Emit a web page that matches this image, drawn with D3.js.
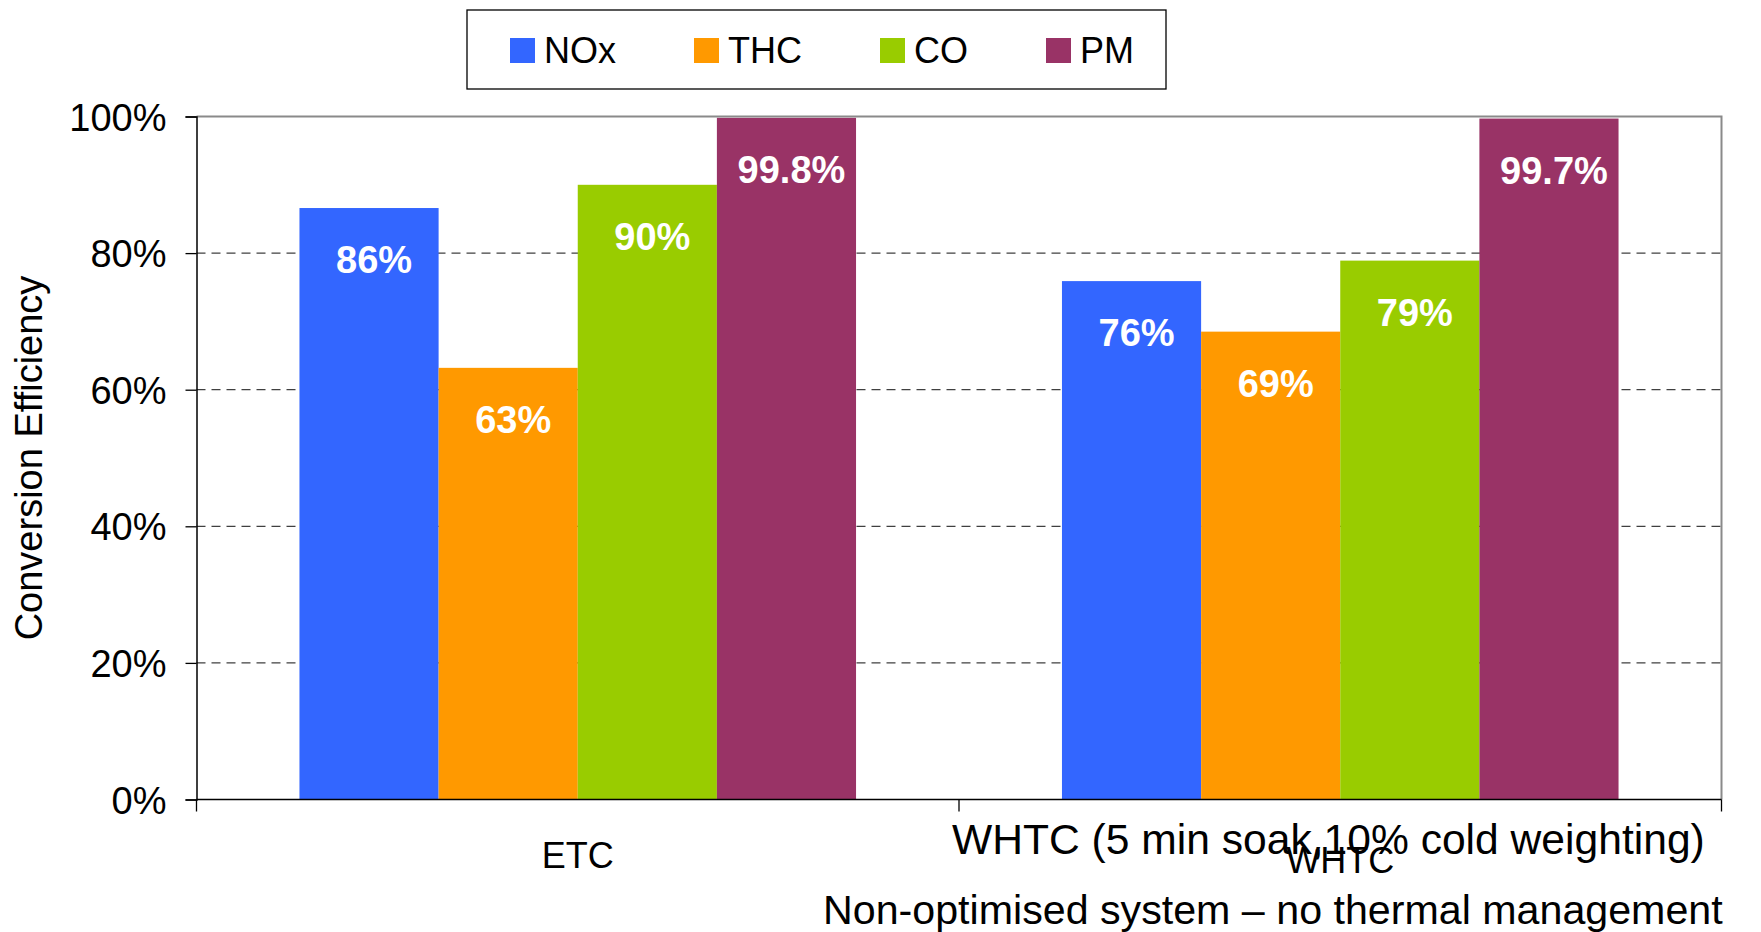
<!DOCTYPE html>
<html>
<head>
<meta charset="utf-8">
<script src="https://cdn.jsdelivr.net/npm/d3@7"></script>
<style>
  html, body { margin: 0; padding: 0; background: #fff; }
  svg { display: block; font-family: Arial, "Liberation Sans", sans-serif; }
</style>
</head>
<body>
<svg id="chart" width="1761" height="932"></svg>
<script>
// ---- data ----
const categories = ["ETC", "WHTC"];
const seriesNames = ["NOx", "THC", "CO", "PM"];
const seriesColors = ["#3366FF", "#FF9900", "#99CC00", "#993366"];
const etcValues = [86.6, 63.2, 90.0, 99.8];
const whtcValues = [75.9, 68.5, 78.9, 99.7];
const etcLabels = ["86%", "63%", "90%", "99.8%"];
const whtcLabels = ["76%", "69%", "79%", "99.7%"];
const yTicks = [0, 20, 40, 60, 80, 100];
const yTitle = "Conversion Efficiency";
const subTitle1 = "WHTC (5 min soak,10% cold weighting)";
const subTitle2 = "Non-optimised system \u2013 no thermal management";

const valuesByCat = [etcValues, whtcValues];
const labelsByCat = [etcLabels, whtcLabels];

// ---- layout ----
const svg = d3.select("#chart");
const L = 196.5, R = 1721.5, T = 116.5, B = 799.5;

const x0 = d3.scaleBand().domain(categories).range([L, R]).paddingInner(0).paddingOuter(0);
const x1 = d3.scaleBand().domain(seriesNames).range([0, x0.bandwidth()]).paddingInner(0).paddingOuter(0.74);
const y = d3.scaleLinear().domain([0, 100]).range([B, T]);

// gridlines
svg.append("g").selectAll("line")
  .data(yTicks.filter(t => t > 0 && t < 100))
  .join("line")
  .attr("x1", L).attr("x2", R)
  .attr("y1", d => y(d)).attr("y2", d => y(d))
  .attr("stroke", "#404040").attr("stroke-width", 1.3)
  .attr("stroke-dasharray", "9,6");

// plot border top/right (gray)
svg.append("path")
  .attr("d", `M${L},${y(100)}H${R}V${B}`)
  .attr("fill", "none").attr("stroke", "#8a8a8a").attr("stroke-width", 2);

// bars
const rows = [];
categories.forEach((c, ci) => seriesNames.forEach((s, si) => {
  rows.push({ cat: c, series: s, si, value: valuesByCat[ci][si], label: labelsByCat[ci][si] });
}));

svg.append("g").selectAll("rect")
  .data(rows)
  .join("rect")
  .attr("x", d => x0(d.cat) + x1(d.series))
  .attr("width", x1.bandwidth())
  .attr("y", d => y(d.value))
  .attr("height", d => y(0) - y(d.value))
  .attr("fill", d => seriesColors[d.si]);

// bar labels
svg.append("g").selectAll("text")
  .data(rows)
  .join("text")
  .attr("x", d => x0(d.cat) + x1(d.series) + x1.bandwidth() / 2 + 5)
  .attr("y", d => y(d.value) + 65)
  .attr("text-anchor", "middle")
  .attr("fill", "#fff")
  .attr("font-weight", "bold")
  .attr("font-size", 38)
  .text(d => d.label);

// y axis
const yAxis = d3.axisLeft(y).tickValues(yTicks).tickFormat(d => d + "%").tickSize(11).tickPadding(19);
const gy = svg.append("g").attr("transform", `translate(${L},0)`).call(yAxis);
gy.select(".domain").attr("stroke", "#000").attr("stroke-width", 1.5);
gy.selectAll(".tick line").attr("stroke", "#000").attr("stroke-width", 1.3);
gy.selectAll(".tick text").attr("font-size", 38).attr("fill", "#000")
  .attr("font-family", "Arial, 'Liberation Sans', sans-serif").attr("dy", "0.36em");

// x axis line
svg.append("line").attr("x1", L).attr("x2", R).attr("y1", B).attr("y2", B)
  .attr("stroke", "#000").attr("stroke-width", 1.5);
// x category boundary ticks
const bounds = [L].concat(categories.map(c => x0(c) + x0.bandwidth()));
svg.append("g").selectAll("line").data(bounds).join("line")
  .attr("x1", d => d).attr("x2", d => d).attr("y1", B).attr("y2", B + 12)
  .attr("stroke", "#000").attr("stroke-width", 1.3);
// category labels
svg.append("g").selectAll("text").data(categories).join("text")
  .attr("x", d => x0(d) + x0.bandwidth() / 2)
  .attr("y", (d, i) => 868 + i * 5)
  .attr("text-anchor", "middle")
  .attr("font-size", 36).attr("fill", "#000")
  .text(d => d);

// y title
svg.append("text")
  .attr("transform", `translate(42,${(T + B) / 2}) rotate(-90)`)
  .attr("text-anchor", "middle")
  .attr("font-size", 38).attr("fill", "#000")
  .text(yTitle);

// annotations
svg.append("text").attr("x", 952).attr("y", 854)
  .attr("font-size", 42.6).attr("fill", "#000").text(subTitle1);
svg.append("text").attr("x", 823).attr("y", 924)
  .attr("font-size", 41.2).attr("fill", "#000").text(subTitle2);

// legend
const lg = svg.append("g");
lg.append("rect").attr("x", 467).attr("y", 10).attr("width", 699).attr("height", 79)
  .attr("fill", "#fff").attr("stroke", "#000").attr("stroke-width", 1.3);
let lx = 510;
seriesNames.forEach((s, i) => {
  lg.append("rect").attr("x", lx).attr("y", 38).attr("width", 25).attr("height", 25)
    .attr("fill", seriesColors[i]);
  const t = lg.append("text").attr("x", lx + 34).attr("y", 63)
    .attr("font-size", 36).attr("fill", "#000").text(s);
  lx += 34 + t.node().getComputedTextLength() + 78;
});
</script>
</body>
</html>
